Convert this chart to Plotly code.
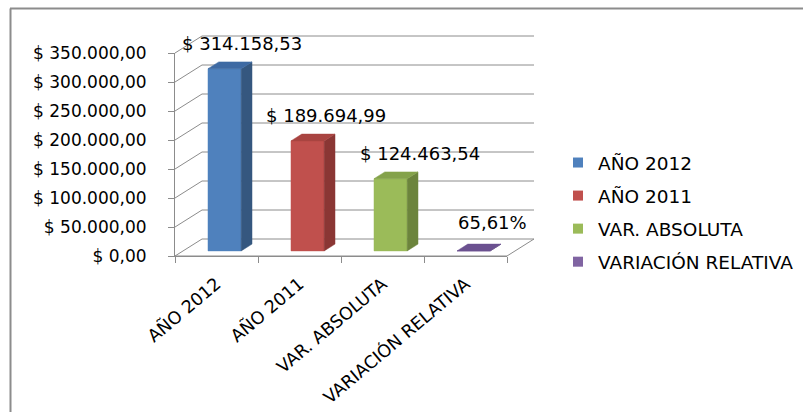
import plotly.graph_objects as go

# ---- data -----------------------------------------------------------------
categories = ["AÑO 2012", "AÑO 2011", "VAR. ABSOLUTA", "VARIACIÓN RELATIVA"]
values = [314158.53, 189694.99, 124463.54, 0.6561]
value_kinds = ["money", "money", "money", "percent"]
tick_values = [0, 50000, 100000, 150000, 200000, 250000, 300000, 350000]

# ---- styles ---------------------------------------------------------------
front_colors = ["#4F81BD", "#C0504D", "#9BBB59", "#8064A2"]
side_colors = ["#35577F", "#8A3634", "#6C843C", "#5B4676"]
top_colors = ["#3E6AA3", "#A94441", "#84A24A", "#6B5190"]
grid_color = "#8C8C8C"
FONT = "DejaVu Sans"
label_nudge_px = [17, 18, 29, 19]     # horizontal nudge of each value label
label_lift_px = [25, 25, 25, 28]      # vertical lift of each value label


def money(v):
    s = f"{v:,.2f}".replace(",", "X").replace(".", ",").replace("X", ".")
    return "$ " + s


def percent(v):
    return f"{v * 100:.2f}%".replace(".", ",")


def fmt(v, kind):
    return money(v) if kind == "money" else percent(v)


tick_text = [money(v) for v in tick_values]
label_text = [fmt(v, k) for v, k in zip(values, value_kinds)]

# ---- page geometry (pixels) -------------------------------------------------
W, H = 803, 412
PLOT_L, PLOT_R, PLOT_T, PLOT_B = 172, 540, 30, 258   # drawing area
FRONT_L, FRONT_B, FRONT_T = 175, 256, 53             # front axes corner / top
PX_PER_CAT = 83
Y_MAX = tick_values[-1]
K = (FRONT_B - FRONT_T) / Y_MAX                       # px per value unit

x_min = -0.5 - (FRONT_L - PLOT_L) / PX_PER_CAT
x_max = -0.5 + (PLOT_R - FRONT_L) / PX_PER_CAT
y_min = -(PLOT_B - FRONT_B) / K
y_max = (FRONT_B - PLOT_T) / K

# 3-D depth of the floor / walls and the placement of each bar in depth
DX = 27 / PX_PER_CAT
DY = 17 / K
BAR_HALF = 0.2
BAR_Z0, BAR_Z1 = 0.3, 0.7

n = len(categories)
xl, xr = -0.5, n - 0.5

fig = go.Figure()

# walls: back gridlines + left wall diagonals
gx, gy = [], []
for v in tick_values:
    gx += [xl, xl + DX, xr + DX, None]
    gy += [v, v + DY, v + DY, None]
# floor right edge and front edge
gx += [xr, xr + DX, None, xl, xr, None]
gy += [0, DY, None, 0, 0, None]
fig.add_trace(go.Scatter(x=gx, y=gy, mode="lines",
                         line=dict(color=grid_color, width=1),
                         hoverinfo="skip", showlegend=False))

# bars: front face, right side face and top face
for i, v in enumerate(values):
    x0 = i - BAR_HALF + BAR_Z0 * DX
    x1 = i + BAR_HALF + BAR_Z0 * DX
    y0 = BAR_Z0 * DY
    sdx = (BAR_Z1 - BAR_Z0) * DX
    sdy = (BAR_Z1 - BAR_Z0) * DY
    top = y0 + v
    faces = [
        ([x0, x1, x1, x0, x0], [y0, y0, top, top, y0], front_colors[i]),
        ([x1, x1 + sdx, x1 + sdx, x1, x1], [y0, y0 + sdy, top + sdy, top, y0], side_colors[i]),
        ([x0, x1, x1 + sdx, x0 + sdx, x0], [top, top, top + sdy, top + sdy, top], top_colors[i]),
    ]
    for fx, fy, col in faces:
        fig.add_trace(go.Scatter(x=fx, y=fy, mode="lines", fill="toself",
                                 fillcolor=col, line=dict(color=col, width=0.5),
                                 hoverinfo="skip", showlegend=False))
    fig.add_annotation(x=(x0 + x1) / 2, y=top, text=label_text[i], showarrow=False,
                       xshift=label_nudge_px[i], yshift=label_lift_px[i],
                       font=dict(family=FONT, size=18, color="#000000"))

# legend entries
for i, name in enumerate(categories):
    fig.add_trace(go.Scatter(x=[None], y=[None], mode="markers", name=name,
                             legendgroup=str(i),
                             marker=dict(symbol="square", size=10, color=front_colors[i])))

# front value axis / category axis (display only)
fig.add_trace(go.Scatter(x=[None], y=[None], xaxis="x2", yaxis="y2",
                         showlegend=False, hoverinfo="skip"))

pw = PLOT_R - PLOT_L
ph = PLOT_B - PLOT_T


def paper_x(px):
    return (px - PLOT_L) / pw


def paper_y(py):
    return (PLOT_B - py) / ph


front_r = FRONT_L + n * PX_PER_CAT

fig.update_layout(
    width=W, height=H, autosize=False,
    margin=dict(l=PLOT_L, r=W - PLOT_R, t=PLOT_T, b=H - PLOT_B, pad=0, autoexpand=False),
    paper_bgcolor="white", plot_bgcolor="rgba(0,0,0,0)",
    font=dict(family=FONT, size=17, color="#000000"),
    xaxis=dict(range=[x_min, x_max], visible=False, fixedrange=True),
    yaxis=dict(range=[y_min, y_max], visible=False, fixedrange=True),
    xaxis2=dict(domain=[paper_x(FRONT_L), paper_x(front_r)], anchor="y2",
                range=[xl, xr], tickmode="array", tickvals=list(range(n)),
                ticktext=categories, tickangle=-40, ticks="",
                ticklabelstandoff=10, automargin=False,
                showgrid=False, zeroline=False, showline=True,
                linecolor=grid_color, linewidth=1,
                tickfont=dict(family=FONT, size=17.5, color="#000000"),
                minor=dict(tickmode="array", tickvals=[k - 0.5 for k in range(n + 1)],
                           ticks="outside", ticklen=6, tickcolor=grid_color, showgrid=False)),
    yaxis2=dict(domain=[paper_y(FRONT_B), paper_y(FRONT_T)], anchor="x2",
                range=[0, Y_MAX], tickmode="array", tickvals=tick_values,
                ticktext=tick_text, ticks="outside", ticklen=6, tickcolor=grid_color,
                ticklabelstandoff=18, automargin=False,
                showgrid=False, zeroline=False, showline=True,
                linecolor=grid_color, linewidth=1,
                tickfont=dict(family=FONT, size=17, color="#000000")),
    legend=dict(x=paper_x(568), y=paper_y(144), xanchor="left", yanchor="top",
                bgcolor="rgba(0,0,0,0)", tracegroupgap=6, indentation=-10,
                font=dict(family=FONT, size=18.5, color="#000000")),
    showlegend=True,
    shapes=[
        dict(type="line", xref="paper", yref="paper",
             x0=paper_x(10), x1=paper_x(W + 5), y0=paper_y(8.5), y1=paper_y(8.5),
             line=dict(color="#8C8C8C", width=2)),
        dict(type="line", xref="paper", yref="paper",
             x0=paper_x(10.5), x1=paper_x(10.5), y0=paper_y(8.5), y1=paper_y(H + 5),
             line=dict(color="#8C8C8C", width=2)),
    ],
)

fig.write_html("out.html")
